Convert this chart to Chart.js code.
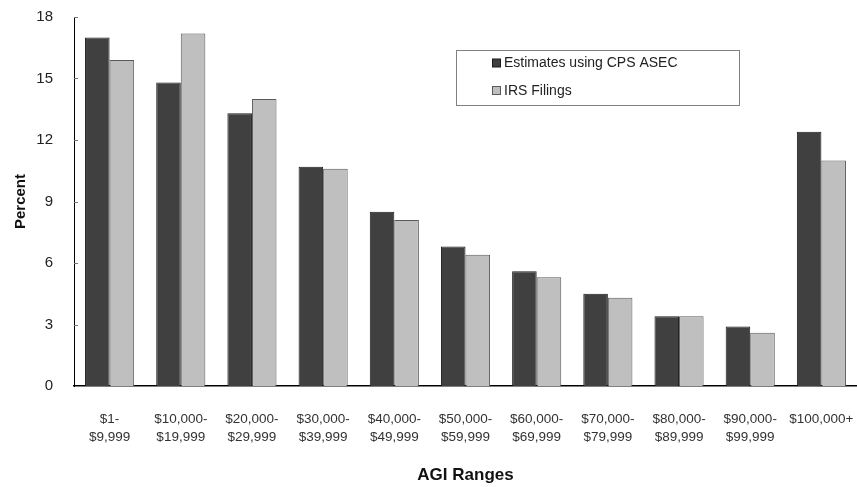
<!DOCTYPE html>
<html>
<head>
<meta charset="utf-8">
<script src="https://cdn.jsdelivr.net/npm/chart.js@4/dist/chart.umd.min.js"></script>
<style>
  html, body { margin: 0; padding: 0; background: #fff; }
  #wrap { width: 857px; height: 487px; position: relative; }
</style>
</head>
<body>
<div id="wrap"><canvas id="c" width="857" height="487"></canvas></div>
<script>
// AGI ranges (two-line tick labels)
const categories = [
  ["$1-", "$9,999"],
  ["$10,000-", "$19,999"],
  ["$20,000-", "$29,999"],
  ["$30,000-", "$39,999"],
  ["$40,000-", "$49,999"],
  ["$50,000-", "$59,999"],
  ["$60,000-", "$69,999"],
  ["$70,000-", "$79,999"],
  ["$80,000-", "$89,999"],
  ["$90,000-", "$99,999"],
  ["$100,000+"]
];

// Percent of returns in each range
const cpsAsec = [17.0, 14.8, 13.3, 10.7, 8.5, 6.8, 5.6, 4.5, 3.4, 2.9, 12.4];
const irsFilings = [15.9, 17.2, 14.0, 10.6, 8.1, 6.4, 5.3, 4.3, 3.4, 2.6, 11.0];

const seriesNames = ["Estimates using CPS ASEC", "IRS Filings"];
const yTicks = [0, 3, 6, 9, 12, 15, 18];

const FONT = "'Liberation Sans', Arial, Helvetica, sans-serif";

// Short tick marks pointing into the plot, plus the boxed legend
const decorations = {
  id: 'decorations',
  afterDraw(chart) {
    const ctx = chart.ctx;
    const y = chart.scales.y;
    const area = chart.chartArea;
    ctx.save();
    ctx.strokeStyle = '#777';
    ctx.lineWidth = 1;
    yTicks.forEach(v => {
      if (v === 0) return;
      const py = Math.round(y.getPixelForValue(v)) + 0.5;
      ctx.beginPath();
      ctx.moveTo(area.left, py);
      ctx.lineTo(area.left + 4, py);
      ctx.stroke();
    });

    // legend box
    const bx = 456.5, by = 50.5, bw = 283, bh = 55;
    ctx.strokeStyle = '#808080';
    ctx.strokeRect(bx, by, bw, bh);
    ctx.font = '14px ' + FONT;
    ctx.textBaseline = 'middle';
    ctx.textAlign = 'left';
    const rows = [63.5, 91];
    chart.data.datasets.forEach((ds, i) => {
      const cy = rows[i];
      ctx.fillStyle = ds.backgroundColor;
      ctx.fillRect(492.5, cy - 4.5, 8, 8);
      ctx.strokeStyle = ds.borderColor;
      ctx.strokeRect(492.5, cy - 4.5, 8, 8);
      ctx.fillStyle = '#222';
      ctx.fillText(ds.label, 504, cy);
    });
    ctx.restore();
  }
};

new Chart(document.getElementById('c'), {
  type: 'bar',
  data: {
    labels: categories,
    datasets: [
      {
        label: seriesNames[0],
        data: cpsAsec,
        backgroundColor: '#404040',
        borderColor: '#1a1a1a',
        borderWidth: 1
      },
      {
        label: seriesNames[1],
        data: irsFilings,
        backgroundColor: '#bfbfbf',
        borderColor: '#5a5a5a',
        borderWidth: 1
      }
    ]
  },
  options: {
    responsive: false,
    animation: false,
    devicePixelRatio: 1,
    layout: { padding: { top: 17, right: 0, bottom: 0, left: 0 } },
    datasets: { bar: { barPercentage: 1.0, categoryPercentage: 0.69 } },
    plugins: {
      legend: { display: false },
      tooltip: { enabled: false }
    },
    scales: {
      x: {
        grid: { display: false, drawTicks: false },
        border: { display: true, color: '#000', width: 1.5 },
        ticks: {
          color: '#333',
          font: { family: FONT, size: 13.5, lineHeight: '18px' },
          padding: 24,
          maxRotation: 0,
          autoSkip: false
        },
        title: {
          display: true,
          text: 'AGI Ranges',
          color: '#111',
          font: { family: FONT, size: 17, weight: 'bold' },
          padding: { top: 0, bottom: 1 }
        },
        afterFit(scale) {
          scale.height = 101;
          scale.paddingLeft = 0;
          scale.paddingRight = 0;
        }
      },
      y: {
        min: 0,
        max: 18,
        grid: { display: false, drawTicks: false },
        border: { display: true, color: '#000', width: 1 },
        ticks: {
          stepSize: 3,
          color: '#222',
          font: { family: FONT, size: 15 },
          padding: 21
        },
        afterBuildTicks(scale) { scale.ticks = yTicks.map(v => ({ value: v })); },
        title: {
          display: true,
          text: 'Percent',
          color: '#111',
          font: { family: FONT, size: 15, weight: 'bold' },
          padding: { top: 12, bottom: 0 }
        },
        afterFit(scale) {
          scale.width = 74;
          scale.paddingTop = 0;
          scale.paddingBottom = 0;
        }
      }
    }
  },
  plugins: [decorations]
});
</script>
</body>
</html>
